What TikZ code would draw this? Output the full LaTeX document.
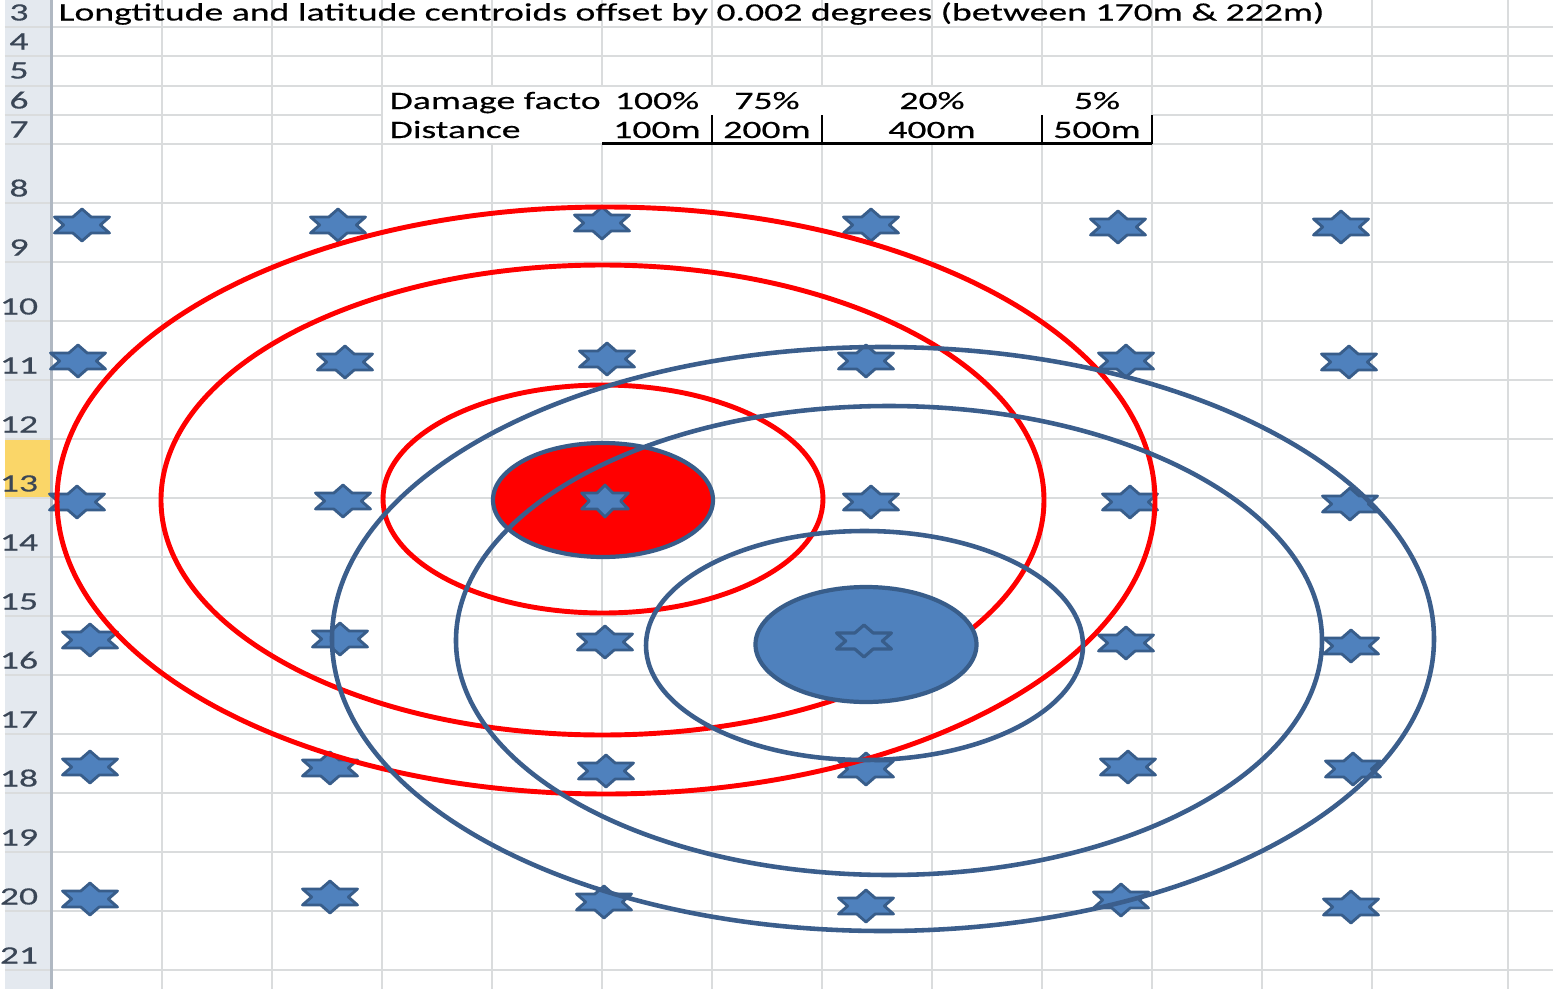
\documentclass[tikz,border=0pt]{standalone}
\usepackage{fontspec}
\newfontfamily\sheetfont[FakeStretch=1.51, FakeBold=0.4]{Carlito}
\usetikzlibrary{positioning}
\definecolor{gridgrey}{RGB}{218,220,221}
\definecolor{headgrey}{RGB}{228,233,239}
\definecolor{headline}{RGB}{176,184,194}
\definecolor{headtext}{RGB}{58,70,86}
\definecolor{selrow}{RGB}{250,214,104}
\definecolor{starfill}{RGB}{79,129,189}
\definecolor{stardraw}{RGB}{56,93,138}
\definecolor{ringblue}{RGB}{59,94,140}
\tikzset{
	damage map/.style={
		x=0.1mm, y=-0.1mm, % one unit = one pixel of the sheet
		font=\sheetfont\fontsize{7.1pt}{8pt}\selectfont,
		grid line/.style={gridgrey, line width=0.6pt},
		row number/.style={anchor=base, text=headtext, inner sep=0pt},
		cell/.style={anchor=base, inner sep=0pt},
		red ring/.style={draw=red, line width=1.4pt},
		blue ring/.style={draw=ringblue, line width=1.3pt}
	},
	site/.style={
		fill=starfill,
		draw=stardraw,
		line width=0.8pt,
		line join=round
	},
	pics/hexstar/.style={code={% flattened six pointed star, #1 = width factor
		\path[pic actions, xscale=#1] (0,16) -- (9.17,8) -- (27.5,8) -- (18.33,0)
			-- (27.5,-8) -- (9.17,-8) -- (0,-16) -- (-9.17,-8) -- (-27.5,-8)
			-- (-18.33,0) -- (-27.5,8) -- (-9.17,8) -- cycle;
	}},
	pics/hexstar/.default=1
}

\begin{document}
\begin{tikzpicture}[damage map]
	\useasboundingbox (0,0) rectangle (1553,989);
	% sheet
	\fill[headgrey] (5,0) rectangle (51,989);
	\fill[selrow] (5,439) rectangle (51,498);
	\foreach \gx in {162,272,...,1372,1508}
		\draw[grid line] (\gx,0) -- (\gx,989);
	\foreach \gy in {27,56,86,115,144,203,262,...,970}
		\draw[grid line] (5,\gy) -- (1553,\gy);
	\draw[headline, line width=0.8pt] (51.5,0) -- (51.5,989);
	\fill[white] (383,87) rectangle (1151,143);
	\foreach \r/\b in {3/20.5,4/49.5,5/78.5,6/108.5,7/137.5,8/196.5,9/255.5,10/314.5,
		11/373.5,12/432.5,13/491.5,14/550.5,15/609.5,16/668.5,17/727.5,18/786.5,
		19/845.5,20/904.5,21/963.5}
		\node[row number] (row-\r) at (19,\b) {\r};
	\node[cell, anchor=base west] (title) at (58,20.5)
		{Longtitude and latitude centroids offset by 0.002 degrees (between 170m \& 222m)};
	% damage table
	\node[cell, anchor=base west] (factor) at (389,109) {Damage facto};
	\node[cell, anchor=base west] (distance) at (389,138) {Distance};
	\node[cell] (f100) at (657,109) {100\%};
	\node[cell] (f75) at (767,109) {75\%};
	\node[cell] (f20) at (932,109) {20\%};
	\node[cell] (f5) at (1097,109) {5\%};
	\node[cell] (d100) at (657,138) {100m};
	\node[cell] (d200) at (767,138) {200m};
	\node[cell] (d400) at (932,138) {400m};
	\node[cell] (d500) at (1097,138) {500m};
	\draw[line width=0.7pt] (602,143.5) -- (1152,143.5);
	\foreach \gx in {712,822,1042,1152}
		\draw[line width=0.7pt] (\gx,115) -- (\gx,143.5);
	% centroids
	\foreach \sx/\sy in {82/225,338/225,602/223,871/225,1118/227,1341/227,
		78/361,345/362,607/359,866/361,1126/361,1349/362,
		77/502,343/501,871/502,1130/502,1350/504,
		90/640,340/639,605/642,1126/643,1351/646,
		90/767,330/768,606/771,866/769,1128/767,1353/769,
		90/899,330/897,604/902,866/906,1121/900,1351/907}
		\pic[site] at (\sx,\sy) {hexstar};
	% first site
	\draw[red ring] (606,500.5) ellipse [x radius=549, y radius=293.5];
	\draw[red ring] (602.5,500) ellipse [x radius=441.5, y radius=235];
	\draw[red ring] (603,499) ellipse [x radius=220, y radius=114];
	\draw[fill=red, draw=stardraw, line width=1.2pt] (603,500) ellipse [x radius=110, y radius=57];
	\pic[site] at (605,501) {hexstar=0.85};
	% second site
	\draw[blue ring] (883,639) ellipse [x radius=551, y radius=292];
	\draw[blue ring] (889,640.5) ellipse [x radius=433, y radius=234.5];
	\draw[blue ring] (864.5,645.5) ellipse [x radius=218.5, y radius=114.5];
	\draw[fill=starfill, draw=stardraw, line width=1.2pt] (866,644.5) ellipse [x radius=110.5, y radius=57.5];
	\pic[draw=stardraw, line width=0.9pt, line join=round] at (864,641) {hexstar};
\end{tikzpicture}
\end{document}
